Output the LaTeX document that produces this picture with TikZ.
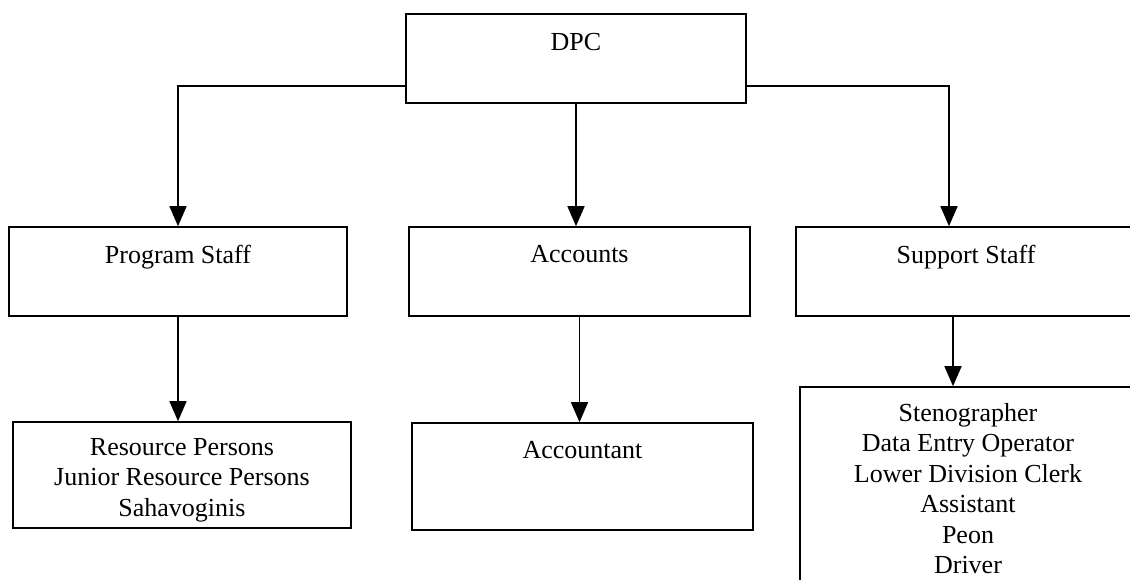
\documentclass[tikz,border=0pt]{standalone}
\usepackage{fontspec}
\setmainfont{Liberation Serif}
\usetikzlibrary{positioning,arrows.meta}

\tikzset{
  box/.style={draw, rectangle, line width=1.6pt, inner sep=0pt},
  txt/.style={inner sep=0pt, align=center, font=\fontsize{26}{30.5}\selectfont},
  arr/.style={line width=1.5pt, -{Triangle[length=20pt,width=17pt]}}
}

\begin{document}
\begin{tikzpicture}[x=1pt,y=-1pt]
% page frame (the scan is cut on the right and at the bottom)
\useasboundingbox (0,0) rectangle (1130,579);
\clip (0,0) rectangle (1130,579);

% Boxes
\node[box, minimum width=340pt, minimum height=89pt] (dpc) at (576,58.5) {};
\node[box, minimum width=338pt, minimum height=89pt] (prog) at (178,271.5) {};
\node[box, minimum width=341pt, minimum height=89pt] (acct) at (579.5,271.5) {};
\node[box, minimum width=340pt, minimum height=89pt] (supp) at (966,271.5) {};
\node[box, minimum width=338pt, minimum height=106pt] (res) at (182,475) {};
\node[box, minimum width=341pt, minimum height=107pt] (accnt) at (582.5,476.5) {};
\node[box, minimum width=336pt, minimum height=233pt] (steno) at (968,503.5) {};

% Texts
\node[txt, below=20pt of dpc.north] (dpctxt) {DPC};
\node[txt, below=19pt of prog.north] (progtxt) {Program Staff};
\node[txt, below=19pt of acct.north] (accttxt) {Accounts};
\node[txt, below=19pt of supp.north] (supptxt) {Support Staff};
\node[txt, below=17pt of res.north] (restxt) {Resource Persons\\Junior Resource Persons\\Sahavoginis};
\node[txt, below=19pt of accnt.north] (accnttxt) {Accountant};
\node[txt, below=17pt of steno.north] (stenotxt) {Stenographer\\Data Entry Operator\\Lower Division Clerk\\Assistant\\Peon\\Driver};

% Connectors
\draw[arr] ([yshift=18pt]dpc.south west) -| (prog.north);
\draw[arr] ([yshift=18pt]dpc.south east) -| ([xshift=-17pt]supp.north);
\draw[arr] (dpc.south) -- (dpc.south |- acct.north);
\draw[arr] (prog.south) -- (prog.south |- res.north);
\draw[arr] (acct.south) -- (acct.south |- accnt.north);
\draw[arr] ([xshift=-13pt]supp.south) -- ([xshift=-13pt]supp.south |- steno.north);
\end{tikzpicture}
\end{document}
